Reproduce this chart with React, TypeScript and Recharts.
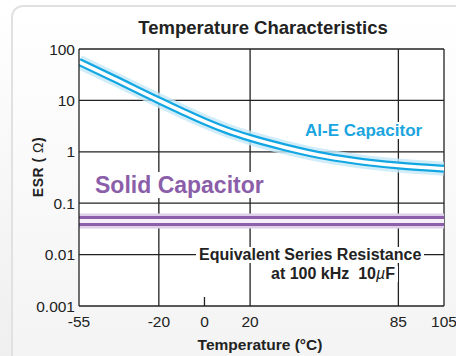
import { LineChart, Line, XAxis, YAxis, CartesianGrid, ReferenceLine } from 'recharts';

// Al-E capacitor ESR vs temperature
const temps = [-55, -40, -20, -10, 0, 10, 20, 35, 50, 65, 85, 105];
const alEsr = [56, 27, 10, 6.2, 3.9, 2.6, 1.86, 1.23, 0.87, 0.68, 0.54, 0.47];

// Solid capacitor stays flat
const solidTemps = [-55, 105];
const solidEsr = [0.045, 0.045];

const xTicks = [-55, -20, 0, 20, 85, 105];
const yTicks = [0.001, 0.01, 0.1, 1, 10, 100];
const xGrid = [-20, 20, 85, 105];
const yGrid = [0.01, 0.1, 1, 10, 100];

const alData = temps.map((t, i) => ({ t, esr: alEsr[i] }));
const solidData = solidTemps.map((t, i) => ({ t, esr: solidEsr[i] }));

const FONT = '"Liberation Sans", Arial, sans-serif';
const INK = '#222';
const BLUE = '#1aa5e0';
const PURPLE = '#8b5ea9';

const bold = { fontFamily: FONT, fontWeight: 700, lineHeight: 1, position: 'absolute' as const, whiteSpace: 'nowrap' as const };

export default function App() {
  return (
    <div
      style={{
        position: 'absolute',
        left: 0,
        top: 0,
        width: 456,
        height: 356,
        overflow: 'hidden',
        background: 'linear-gradient(#ffffff, #efefef)',
        fontFamily: FONT,
      }}
    >
      {/* rounded panel */}
      <div
        style={{
          position: 'absolute',
          left: 11,
          top: 5,
          width: 460,
          height: 370,
          borderRadius: 12,
          border: '2px solid #e1e1e1',
          background: 'linear-gradient(#ffffff, #f3f3f3)',
        }}
      />

      <div style={{ position: 'absolute', left: 0, top: 0 }}>
        <LineChart width={456} height={356} margin={{ top: 49, right: 12, left: 0, bottom: 0 }}>
          <CartesianGrid
            fill="#ffffff"
            stroke={INK}
            strokeWidth={1.3}
            horizontalValues={yGrid}
            verticalValues={xGrid}
          />
          <XAxis
            dataKey="t"
            type="number"
            domain={[-55, 105]}
            ticks={xTicks}
            allowDataOverflow
            height={50}
            axisLine={{ stroke: INK, strokeWidth: 1.3 }}
            tickLine={false}
            tickSize={0}
            tickMargin={10}
            tick={{ fill: INK, fontSize: 15.5, fontFamily: FONT }}
            interval={0}
          />
          <YAxis
            type="number"
            scale="log"
            domain={[0.001, 100]}
            ticks={yTicks}
            allowDataOverflow
            width={79}
            axisLine={{ stroke: INK, strokeWidth: 1.3 }}
            tickLine={false}
            tickSize={0}
            tickMargin={4}
            tick={{ fill: INK, fontSize: 15.5, fontFamily: FONT }}
            interval={0}
          />

          {/* Al-E capacitor band: glow, blue body, white core */}
          <Line data={alData} dataKey="esr" type="monotone" stroke="#c6e8f7" strokeWidth={14} strokeOpacity={0.8} dot={false} isAnimationActive={false} />
          <Line data={alData} dataKey="esr" type="monotone" stroke="#12a6e2" strokeWidth={8} dot={false} isAnimationActive={false} />
          <Line data={alData} dataKey="esr" type="monotone" stroke="#ffffff" strokeWidth={3.5} dot={false} isAnimationActive={false} />

          {/* Solid capacitor band */}
          <Line data={solidData} dataKey="esr" type="linear" stroke="#ddd0e8" strokeWidth={15} dot={false} isAnimationActive={false} />
          <Line data={solidData} dataKey="esr" type="linear" stroke="#8d5fab" strokeWidth={10} dot={false} isAnimationActive={false} />
          <Line data={solidData} dataKey="esr" type="linear" stroke="#f5eff9" strokeWidth={4} dot={false} isAnimationActive={false} />

          {/* small tick at 0 °C */}
          <ReferenceLine
            segment={[{ x: 0, y: 0.001 }, { x: 0, y: 0.0015 }]}
            stroke={INK}
            strokeWidth={1.3}
          />
        </LineChart>
      </div>

      <div style={{ ...bold, left: 0, width: 526, top: 19, fontSize: 18.5, color: INK, textAlign: 'center' }}>
        Temperature Characteristics
      </div>

      <div style={{ ...bold, left: 303, top: 122, fontSize: 17, color: BLUE, background: '#fff', padding: '0 2px' }}>
        Al-E Capacitor
      </div>

      <div style={{ ...bold, left: 95, top: 174, fontSize: 23, color: PURPLE }}>
        <span style={{ background: '#fff' }}>Solid</span>{' '}
        <span style={{ background: '#fff' }}>Capacitor</span>
      </div>

      <div style={{ ...bold, left: 196, top: 247, fontSize: 16, color: INK, background: '#fff', padding: '0 3px' }}>
        Equivalent Series Resistance
      </div>
      <div style={{ ...bold, left: 268, top: 266, fontSize: 16, color: INK, background: '#fff', padding: '0 3px' }}>
        at 100 kHz&nbsp; 10<span style={{ fontStyle: 'italic', fontWeight: 400 }}>µ</span>F
      </div>

      <div style={{ ...bold, left: 160, width: 200, top: 337, fontSize: 15.5, color: INK, textAlign: 'center' }}>
        Temperature (°C)
      </div>

      <div
        style={{
          ...bold,
          left: 38,
          top: 167,
          fontSize: 14,
          color: INK,
          transform: 'translate(-50%, -50%) rotate(-90deg)',
          letterSpacing: 0.5,
        }}
      >
        ESR ( <span style={{ fontWeight: 400 }}>Ω</span>)
      </div>
    </div>
  );
}
